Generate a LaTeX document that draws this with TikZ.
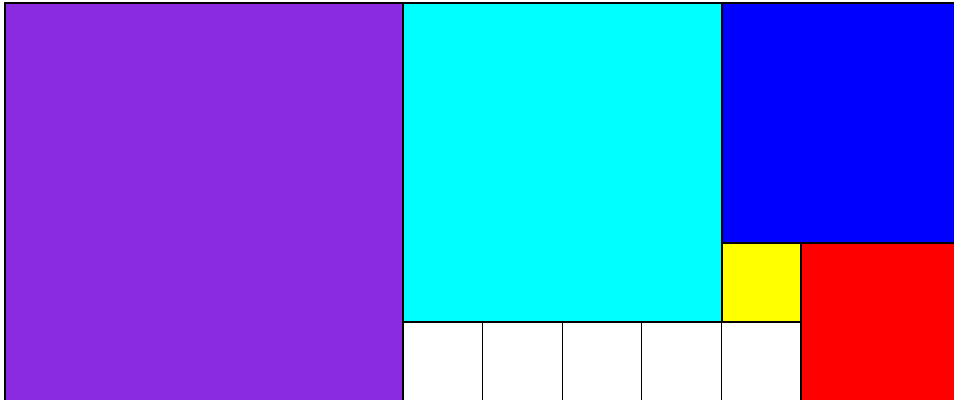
\documentclass[tikz,border=0pt]{standalone}
\usepackage{xcolor}
\usepackage{tikz}
\definecolor{violetsq}{HTML}{8A2BE2}
\definecolor{cyansq}{HTML}{00FFFF}
\definecolor{bluesq}{HTML}{0000FF}
\definecolor{yellowsq}{HTML}{FFFF00}
\definecolor{redsq}{HTML}{FF0000}
\tikzset{
  tile/.style={draw=black, line width=1pt, fill=#1},
}

\begin{document}
\begin{tikzpicture}[x=0.75pt, y=-0.75pt]
  \useasboundingbox (0,0) rectangle (954,400);
  \clip (0,0) rectangle (954,400);
  % big squares
  \filldraw[tile=violetsq] (5,3) rectangle (403,401);
  \filldraw[tile=cyansq] (403,3) rectangle (722,322);
  \filldraw[tile=bluesq] (722,3) rectangle (961,243);
  \filldraw[tile=yellowsq] (722,243) rectangle (801,322);
  \filldraw[tile=redsq] (801,243) rectangle (961,402);
  % unit squares along the bottom
  \foreach \i in {0,...,4}
    \filldraw[tile=white] ({403+79.6*\i},322) rectangle ({403+79.6*(\i+1)},402);
\end{tikzpicture}
\end{document}
